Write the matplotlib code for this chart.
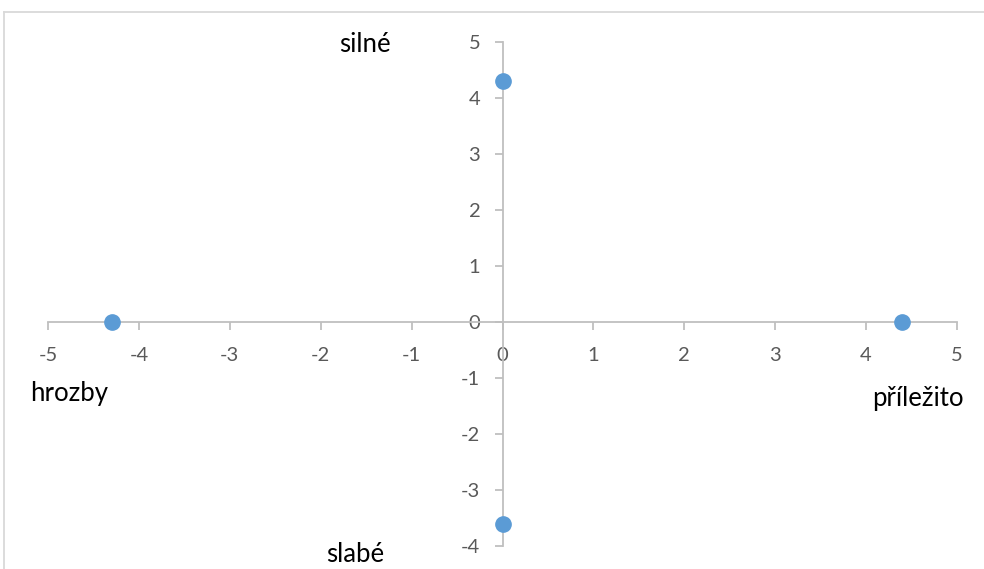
import matplotlib.pyplot as plt
from matplotlib.lines import Line2D

# bodové hodnoty (x, y)
xs = [0, -4.3, 4.4, 0]
ys = [4.3, 0, 0, -3.6]

x_ticks = [-5, -4, -3, -2, -1, 0, 1, 2, 3, 4, 5]
y_ticks = [-4, -3, -2, -1, 0, 1, 2, 3, 4, 5]

labels = ['silné', 'hrozby', 'příležito', 'slabé']
label_x = [-1.51, -4.77, 4.57, -1.62]
label_y = [4.96, -1.27, -1.36, -4.16]

plt.rcParams['font.family'] = ['Lato', 'DejaVu Sans']
plt.rcParams['axes.unicode_minus'] = False

fig = plt.figure(figsize=(9.84, 5.69), dpi=100)
ax = fig.add_axes([48 / 984, 1 - 546 / 569, (957 - 48) / 984, (546 - 42) / 569])

ax.plot(xs, ys, 'o', color='#5B9BD5', markersize=11, zorder=5, clip_on=False)

ax.set_xlim(-5, 5)
ax.set_ylim(-4, 5)
ax.set_xticks(x_ticks)
ax.set_yticks(y_ticks)

for s in ['top', 'right']:
    ax.spines[s].set_visible(False)
ax.spines['left'].set_position(('data', 0))
ax.spines['bottom'].set_position(('data', 0))
for s in ['left', 'bottom']:
    ax.spines[s].set_color('#BFBFBF')
    ax.spines[s].set_linewidth(1.3)

ax.tick_params(axis='both', colors='#BFBFBF', labelcolor='#595959', labelsize=14.5,
               length=6, width=1.3, direction='out')
ax.tick_params(axis='x', pad=12)
ax.tick_params(axis='y', pad=10)

for t, lx, ly in zip(labels, label_x, label_y):
    ax.text(lx, ly, t, fontsize=18.5, color='black', ha='center', va='center')

# rámeček grafu
fig.add_artist(Line2D([4 / 984, 4 / 984], [0, 1 - 12 / 569], transform=fig.transFigure,
                      color='#D9D9D9', linewidth=1.3))
fig.add_artist(Line2D([4 / 984, 1], [1 - 12 / 569, 1 - 12 / 569], transform=fig.transFigure,
                      color='#D9D9D9', linewidth=1.3))

fig.savefig('out.png', dpi=100)
